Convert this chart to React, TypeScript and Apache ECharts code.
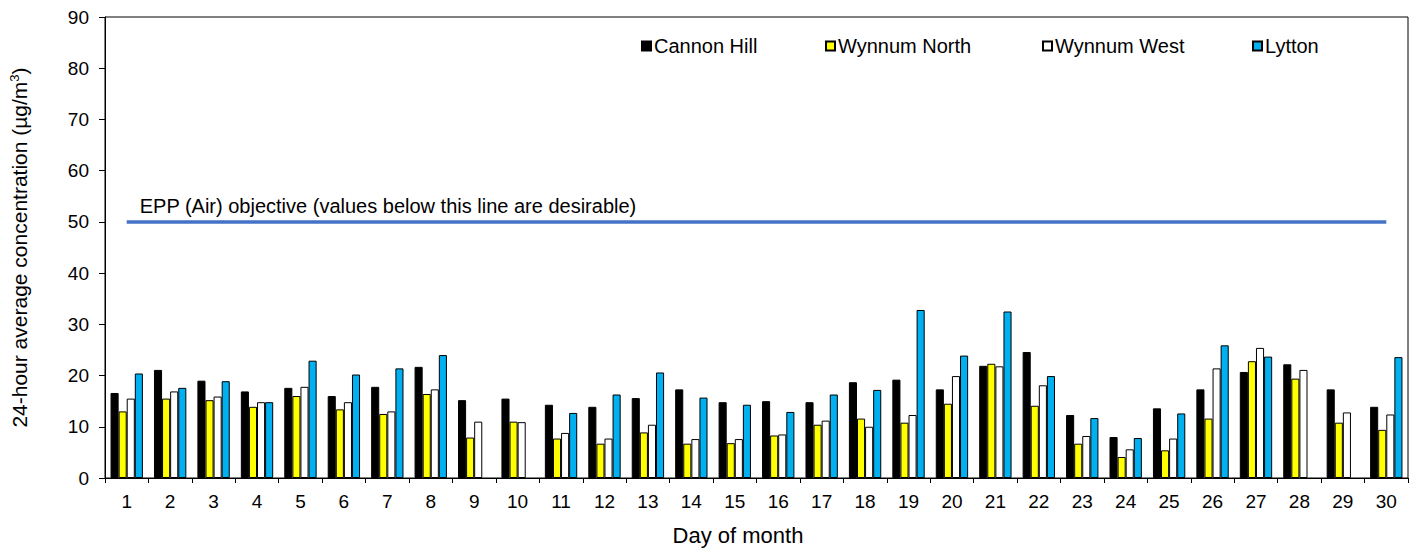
import React, { useEffect, useRef } from "react";
import * as echarts from "echarts";

const DAYS = Array.from({ length: 30 }, (_, i) => String(i + 1));
const SERIES_NAMES = ["Cannon Hill", "Wynnum North", "Wynnum West", "Lytton"];
const CANNON_HILL = [16.6, 21.1, 19.0, 16.9, 17.6, 16.0, 17.8, 21.7, 15.2, 15.5, 14.3, 13.9, 15.6, 17.3, 14.8, 15.0, 14.8, 18.7, 19.2, 17.3, 21.9, 24.6, 12.3, 8.0, 13.6, 17.3, 20.7, 22.2, 17.3, 13.9];
const WYNNUM_NORTH = [13.0, 15.5, 15.2, 13.9, 16.0, 13.4, 12.5, 16.4, 7.9, 11.0, 7.7, 6.7, 8.9, 6.7, 6.8, 8.3, 10.4, 11.6, 10.8, 14.5, 22.3, 14.1, 6.7, 4.1, 5.4, 11.6, 22.8, 19.4, 10.8, 9.4];
const WYNNUM_WEST = [15.5, 16.9, 15.9, 14.8, 17.8, 14.8, 13.0, 17.3, 11.0, 10.9, 8.8, 7.7, 10.4, 7.6, 7.6, 8.5, 11.2, 10.0, 12.3, 19.9, 21.8, 18.1, 8.2, 5.6, 7.7, 21.4, 25.4, 21.1, 12.8, 12.4];
const LYTTON = [20.4, 17.6, 18.9, 14.8, 22.9, 20.2, 21.4, 24.0, null, null, 12.7, 16.3, 20.6, 15.7, 14.3, 12.9, 16.3, 17.2, 32.8, 23.9, 32.5, 19.9, 11.7, 7.8, 12.6, 25.9, 23.7, null, null, 23.6];
const SERIES_VALUES = [CANNON_HILL, WYNNUM_NORTH, WYNNUM_WEST, LYTTON];
const COLORS = ["#000000", "#FFFF00", "#FFFFFF", "#00B0F0"];
const OBJECTIVE = 50;
const OBJECTIVE_LABEL = "EPP (Air) objective (values below this line are desirable)";
const Y_MIN = 0;
const Y_MAX = 90;
const Y_INTERVAL = 10;
const LEGEND_LEFTS = [641, 825, 1042, 1252];

const FONT = "'Liberation Sans', Arial, sans-serif";

export default function App() {
  const ref = useRef<HTMLDivElement>(null);
  useEffect(() => {
    if (!ref.current) return;
    const chart = echarts.init(ref.current, null, { renderer: "svg" });
    const series: any[] = SERIES_NAMES.map((name, i) => ({
      name,
      type: "bar",
      data: SERIES_VALUES[i],
      barGap: "0%",
      barCategoryGap: "25.5%",
      itemStyle: { color: COLORS[i], borderColor: "#000", borderWidth: 1 },
      emphasis: { disabled: true },
    }));
    series.push({
      name: "objective",
      type: "line",
      data: [],
      silent: true,
      markLine: {
        silent: true,
        symbol: "none",
        lineStyle: { color: "#4472C4", width: 3.5, type: "solid" },
        label: {
          show: true,
          position: "insideStartTop",
          formatter: OBJECTIVE_LABEL,
          color: "#000",
          fontSize: 20,
          fontFamily: FONT,
          distance: [13, 6],
        },
        data: [[{ coord: [DAYS[0], OBJECTIVE] }, { coord: [DAYS[DAYS.length - 1], OBJECTIVE] }]],
      },
    });
    chart.setOption({
      animation: false,
      textStyle: { fontFamily: FONT },
      legend: SERIES_NAMES.map((name, i) => ({
        data: [name],
        left: LEGEND_LEFTS[i],
        top: 36,
        padding: 0,
        icon: "rect",
        itemWidth: 9,
        itemHeight: 9,
        selectedMode: false,
        textStyle: { fontSize: 20, color: "#000", fontFamily: FONT, padding: [0, 0, 0, -2] },
      })),
      grid: {
        left: 104,
        right: 12,
        top: 17,
        bottom: 69,
        show: true,
        borderColor: "#000",
        borderWidth: 1,
        backgroundColor: "transparent",
      },
      xAxis: {
        type: "category",
        data: DAYS,
        boundaryGap: true,
        name: "Day of month",
        nameLocation: "middle",
        nameGap: 46,
        nameTextStyle: { fontSize: 22, color: "#000", fontFamily: FONT, padding: [0, 37, 0, 0] },
        axisLine: { lineStyle: { color: "#000", width: 1 } },
        axisTick: { show: true, alignWithLabel: false, length: 5, lineStyle: { color: "#000" } },
        axisLabel: { fontSize: 19, color: "#000", margin: 14, fontFamily: FONT, interval: 0 },
        splitLine: { show: false },
      },
      yAxis: {
        type: "value",
        min: Y_MIN,
        max: Y_MAX,
        interval: Y_INTERVAL,
        name: "24-hour average concentration (µg/m{sup|3})",
        nameLocation: "middle",
        nameRotate: 90,
        nameGap: 74,
        nameTextStyle: {
          fontSize: 21,
          color: "#000",
          fontFamily: FONT,
          rich: { sup: { fontSize: 13, verticalAlign: "top", padding: [0, 0, 10, 0], color: "#000", fontFamily: FONT } },
        },
        axisLine: { show: true, lineStyle: { color: "#000", width: 1 } },
        axisTick: { show: true, length: 6, lineStyle: { color: "#000" } },
        axisLabel: { fontSize: 19, color: "#000", margin: 16, fontFamily: FONT },
        splitLine: { show: false },
      },
      series,
    });
    return () => chart.dispose();
  }, []);
  return (
    <div
      ref={ref}
      style={{ position: "fixed", left: 0, top: 0, width: 1420, height: 551, background: "#fff" }}
    />
  );
}
